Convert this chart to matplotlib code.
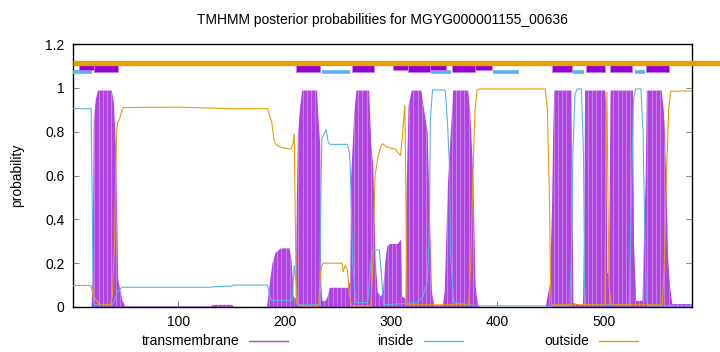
import matplotlib
matplotlib.use("Agg")
import matplotlib.pyplot as plt
from matplotlib.lines import Line2D
import matplotlib.transforms as mtransforms

plt.rcParams['font.family'] = ['Liberation Sans', 'DejaVu Sans']
plt.rcParams['font.size'] = 10

title = "TMHMM posterior probabilities for MGYG000001155_00636"
seq_len = 583

# transmembrane posterior (residue, probability)
tm_x = [1, 18, 19, 20, 22, 24, 37, 39, 41, 42, 43, 45, 47, 50, 130, 132, 150, 152, 183, 185, 188, 191,
        196, 204, 206, 208, 210, 211, 212, 214, 216, 230, 231, 233, 234, 235, 238, 240, 242, 259, 261,
        262, 265, 267, 279, 281, 283, 285, 287, 290, 292, 294, 296, 299, 306, 309, 310, 313, 314, 316,
        319, 328, 331, 334, 336, 338, 340, 348, 350, 353, 355, 358, 372, 374, 377, 379, 381, 383, 445,
        446, 449, 451, 452, 453, 469, 470, 471, 480, 481, 482, 501, 502, 503, 504, 505, 506, 527, 528,
        530, 536, 537, 539, 540, 554, 556, 557, 559, 560, 562, 564, 583]
tm_y = [0, 0, 0.13, 0.85, 0.95, 0.99, 0.99, 0.93, 0.72, 0.45, 0.13, 0.08, 0.03, 0.005, 0.005, 0.012,
        0.012, 0.003, 0.003, 0.09, 0.2, 0.25, 0.27, 0.27, 0.22, 0.05, 0.04, 0.5, 0.79, 0.91, 0.99, 0.99,
        0.89, 0.74, 0.1, 0.03, 0.03, 0.05, 0.09, 0.09, 0.12, 0.59, 0.89, 0.99, 0.99, 0.74, 0.63, 0.22,
        0.07, 0.05, 0.07, 0.2, 0.28, 0.29, 0.29, 0.31, 0.05, 0.04, 0.5, 0.92, 0.99, 0.99, 0.89, 0.8,
        0.44, 0.07, 0.01, 0.01, 0.07, 0.56, 0.74, 0.99, 0.99, 0.89, 0.59, 0.1, 0.02, 0.0, 0.0, 0.03,
        0.11, 0.48, 0.8, 0.99, 0.99, 0.6, 0.02, 0.01, 0.3, 0.99, 0.99, 0.9, 0.16, 0.15, 0.5, 0.99, 0.99,
        0.3, 0.03, 0.03, 0.24, 0.6, 0.99, 0.99, 0.9, 0.81, 0.46, 0.23, 0.09, 0.016, 0.016]

# inside posterior
in_x = [1, 18, 19, 20, 21, 38, 40, 43, 47, 130, 135, 150, 152, 184, 186, 188, 207, 208, 209, 211, 212,
        233, 234, 235, 237, 239, 241, 243, 259, 261, 262, 264, 267, 278, 281, 283, 289, 291, 293, 325,
        330, 334, 336, 337, 339, 351, 353, 355, 356, 359, 383, 468, 470, 471, 473, 475, 479, 481, 482,
        483, 524, 526, 528, 530, 535, 537, 538, 540, 542, 583]
in_y = [0.905, 0.905, 0.5, 0.05, 0.01, 0.01, 0.03, 0.07, 0.09, 0.09, 0.093, 0.095, 0.1, 0.1, 0.05, 0.03,
        0.03, 0.1, 0.19, 0.1, 0.01, 0.01, 0.5, 0.77, 0.79, 0.81, 0.75, 0.742, 0.742, 0.7, 0.59, 0.2,
        0.02, 0.02, 0.2, 0.26, 0.26, 0.15, 0.01, 0.02, 0.05, 0.11, 0.33, 0.85, 0.99, 0.99, 0.85, 0.64,
        0.24, 0.02, 0.005, 0.005, 0.3, 0.7, 0.97, 0.995, 0.995, 0.7, 0.1, 0.01, 0.01, 0.5, 0.95, 0.995,
        0.995, 0.8, 0.5, 0.03, 0.005, 0.005]

# outside posterior
out_x = [1, 18, 20, 23, 26, 36, 38, 40, 41, 42, 43, 45, 47, 49, 100, 150, 184, 186, 188, 190, 192, 196,
         200, 206, 208, 209, 210, 211, 213, 232, 233, 234, 236, 254, 255, 257, 259, 261, 263, 281, 283,
         285, 288, 290, 292, 296, 304, 309, 311, 313, 314, 315, 373, 375, 377, 379, 381, 383, 445, 447,
         449, 450, 451, 501, 502, 503, 504, 505, 507, 555, 557, 559, 561, 563, 583]
out_y = [0.098, 0.098, 0.05, 0.03, 0.01, 0.01, 0.05, 0.3, 0.55, 0.8, 0.84, 0.86, 0.9, 0.91, 0.912, 0.905,
         0.905, 0.87, 0.84, 0.76, 0.74, 0.73, 0.725, 0.72, 0.75, 0.79, 0.4, 0.02, 0.005, 0.005, 0.1,
         0.17, 0.2, 0.2, 0.16, 0.19, 0.17, 0.05, 0.005, 0.005, 0.2, 0.6, 0.69, 0.73, 0.745, 0.73, 0.72,
         0.69, 0.8, 0.92, 0.5, 0.01, 0.01, 0.2, 0.6, 0.9, 0.99, 0.995, 0.995, 0.9, 0.5, 0.1, 0.01, 0.01,
         0.5, 0.98, 0.5, 0.1, 0.01, 0.01, 0.2, 0.6, 0.9, 0.985, 0.985]

# predicted topology segments (start, end)
tm_segments = [(21, 43), (211, 233), (263, 284), (316, 337), (357, 379), (451, 470), (483, 501),
               (506, 527), (540, 561)]
tm_minor_segments = [(7, 21), (302, 352), (379, 395)]
inside_segments = [(1, 19), (235, 261), (338, 356), (396, 420), (471, 481), (529, 539)]

C_TM = "#b044e0"
C_TM_BOX = "#9400d3"
C_IN = "#56b4e9"
C_OUT = "#e69f00"

fig = plt.figure(figsize=(7.2, 3.52), dpi=100)
ax = fig.add_axes([73 / 720, 1 - 307 / 352, (692 - 73) / 720, (307 - 44) / 352])

# transmembrane filled (impulse-like)
poly = ax.fill_between(tm_x, 0, tm_y, color=C_TM, linewidth=0, zorder=2)
# light stripes typical of impulse rendering
stripes = ax.vlines(list(range(1, seq_len + 1, 4)), 0, 1.0, colors="white", linewidth=0.6,
                    alpha=0.35, zorder=2.5)
stripes.set_clip_path(poly.get_paths()[0], ax.transData)

ax.plot(in_x, in_y, color=C_IN, linewidth=0.8, zorder=3)
ax.plot(out_x, out_y, color=C_OUT, linewidth=0.8, zorder=3)

# topology bars at top
for s, e in inside_segments:
    ax.plot([s, e], [1.07, 1.07], color=C_IN, linewidth=2.6, solid_capstyle='butt', zorder=4)
for s, e in tm_minor_segments:
    ax.bar(s, 0.021, width=e - s, bottom=1.083, align='edge', color=C_TM_BOX,
           edgecolor="#c080f0", linewidth=0.6, zorder=5)
for s, e in tm_segments:
    ax.bar(s, 0.05, width=e - s, bottom=1.071, align='edge', color=C_TM_BOX,
           edgecolor="#c080f0", linewidth=0.6, zorder=6)
trans = mtransforms.blended_transform_factory(ax.transAxes, ax.transData)
ax.plot([0, 1.06], [1.112, 1.112], color=C_OUT, linewidth=3.8, solid_capstyle='butt',
        transform=trans, clip_on=False, zorder=7)

ax.set_xlim(1, seq_len)
ax.set_ylim(0, 1.2)
ax.set_xticks([100, 200, 300, 400, 500])
ax.set_yticks([0, 0.2, 0.4, 0.6, 0.8, 1.0, 1.2])
ax.set_yticklabels(["0", "0.2", "0.4", "0.6", "0.8", "1", "1.2"])
ax.tick_params(axis='both', direction='in', length=4, width=0.8, color="#888888",
               labelsize=10, pad=6)
ax.tick_params(axis='y', right=True)
for sp in ax.spines.values():
    sp.set_linewidth(1.0)
    sp.set_color("black")

ax.set_ylabel("probability", fontsize=10, labelpad=15)
fig.text(382 / 720, 1 - 20 / 352, title, ha='center', va='center', fontsize=10)

# legend (gnuplot style: text then sample)
leg_y = 1 - 341 / 352
entries = [("transmembrane", C_TM, 239, 249, 288),
           ("inside", C_IN, 414, 424, 463),
           ("outside", C_OUT, 589, 599, 638)]
for label, col, tx, l0, l1 in entries:
    fig.text(tx / 720, leg_y, label, ha='right', va='center', fontsize=10)
    fig.add_artist(Line2D([l0 / 720, l1 / 720], [leg_y, leg_y], color=col, linewidth=1.0,
                          transform=fig.transFigure))

fig.savefig("out.png", dpi=100)
